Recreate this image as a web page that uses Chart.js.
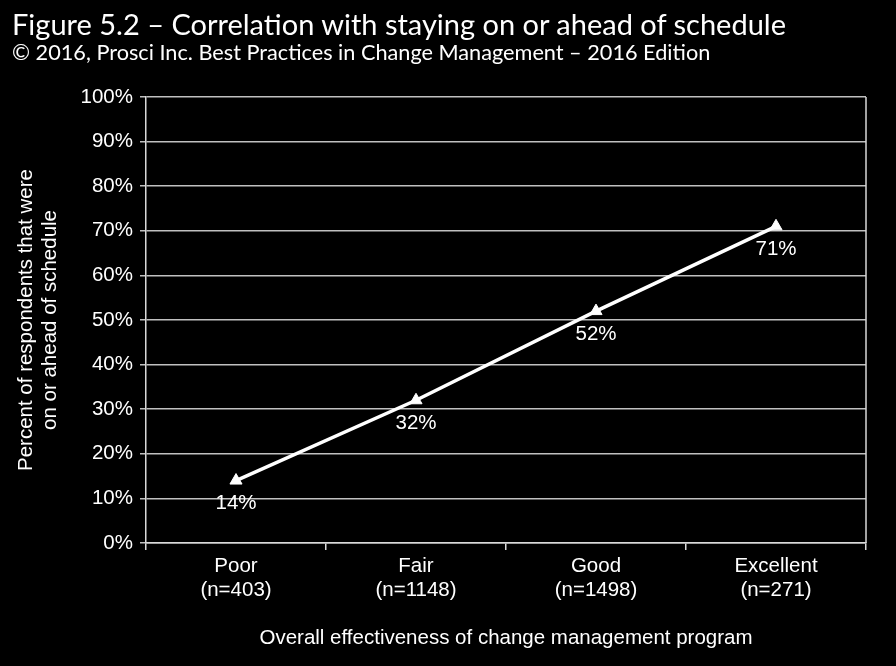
<!DOCTYPE html>
<html>
<head>
  <meta charset="UTF-8">
  <title>Figure 5.2</title>
  <script src="https://cdn.jsdelivr.net/npm/chart.js"></script>
  <style>
    body {
      margin: 0;
      background: #000;
      width: 896px;
      height: 666px;
      overflow: hidden;
      position: relative;
    }
    .title {
      position: absolute;
      left: 12px;
      color: #fff;
      font-family: Lato, 'Open Sans', sans-serif;
      white-space: nowrap;
    }
    #t1 { top: 6px; font-size: 29px; }
    #t2 { top: 39px; font-size: 21.7px; }
    #wrap {
      position: absolute;
      left: 0;
      top: 0;
      width: 896px;
      height: 666px;
    }
  </style>
</head>
<body>
  <div id="wrap"><canvas id="chart"></canvas></div>
  <div class="title" id="t1">Figure 5.2 – Correlation with staying on or ahead of schedule</div>
  <div class="title" id="t2">© 2016, Prosci Inc. Best Practices in Change Management – 2016 Edition</div>

  <script>
    const categories = ['Poor', 'Fair', 'Good', 'Excellent'];
    const sampleSizes = ['(n=403)', '(n=1148)', '(n=1498)', '(n=271)'];
    const onSchedule = [14, 32, 52, 71];

    const labels = categories.map((c, i) => [c, sampleSizes[i]]);
    const font = { family: 'Arial, "Liberation Sans", sans-serif', size: 20.5, lineHeight: 1.15 };

    // value labels under each point
    const valueLabels = {
      id: 'valueLabels',
      afterDatasetsDraw(chart) {
        const ctx = chart.ctx;
        const meta = chart.getDatasetMeta(0);
        ctx.save();
        ctx.fillStyle = '#fff';
        ctx.font = '20.5px Arial, "Liberation Sans", sans-serif';
        ctx.textAlign = 'center';
        ctx.textBaseline = 'middle';
        meta.data.forEach((pt, i) => {
          ctx.fillText(onSchedule[i] + '%', pt.x, pt.y + 23);
        });
        ctx.restore();
      }
    };

    // right edge of the plot area
    const plotEdge = {
      id: 'plotEdge',
      beforeDatasetsDraw(chart) {
        const a = chart.chartArea;
        const ctx = chart.ctx;
        ctx.save();
        ctx.strokeStyle = '#d9d9d9';
        ctx.lineWidth = 1.5;
        ctx.beginPath();
        ctx.moveTo(a.right, a.top);
        ctx.lineTo(a.right, a.bottom);
        ctx.stroke();
        ctx.restore();
      }
    };

    new Chart(document.getElementById('chart'), {
      type: 'line',
      data: {
        labels: labels,
        datasets: [{
          data: onSchedule,
          borderColor: '#fff',
          borderWidth: 3.5,
          pointStyle: 'triangle',
          pointRadius: 7,
          pointBorderWidth: 1,
          pointBackgroundColor: '#fff',
          pointBorderColor: '#fff',
          tension: 0
        }]
      },
      options: {
        responsive: true,
        maintainAspectRatio: false,
        animation: false,
        layout: { padding: { top: 97, right: 30, left: 0, bottom: 0 } },
        plugins: {
          legend: { display: false },
          tooltip: { enabled: false }
        },
        scales: {
          x: {
            offset: true,
            afterFit: s => { s.height = 123; },
            grid: {
              offset: true,
              drawOnChartArea: false,
              color: '#d9d9d9',
              tickLength: 7,
              lineWidth: 1.5
            },
            border: { color: '#d9d9d9', width: 1.5 },
            ticks: { color: '#fff', font: font, padding: 5, maxRotation: 0 },
            title: {
              display: true,
              text: 'Overall effectiveness of change management program',
              color: '#fff',
              font: font,
              padding: { top: 10, bottom: 16 }
            }
          },
          y: {
            min: 0,
            max: 100,
            afterFit: s => { s.width = 146; },
            grid: { color: '#c0c0c0', tickLength: 6, lineWidth: 1.5 },
            border: { color: '#d9d9d9', width: 1.5 },
            ticks: {
              stepSize: 10,
              color: '#fff',
              font: font,
              padding: 7,
              callback: v => v + '%'
            },
            title: {
              display: true,
              text: ['Percent of respondents that were', 'on or ahead of schedule'],
              color: '#fff',
              font: font,
              padding: { top: 15, bottom: 0 }
            }
          }
        }
      },
      plugins: [valueLabels, plotEdge]
    });
  </script>
</body>
</html>
